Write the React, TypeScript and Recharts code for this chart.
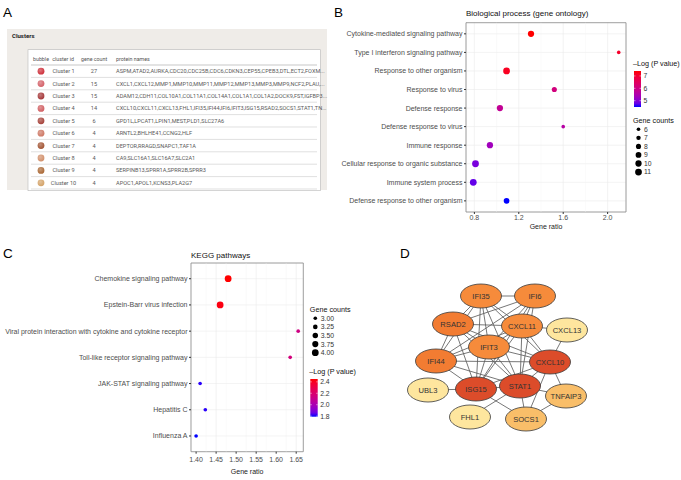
import React from "react";
import { ScatterChart, Scatter, XAxis, YAxis, CartesianGrid, ReferenceLine, ReferenceArea } from "recharts";

const FONT = "'Liberation Sans', Arial, Helvetica, sans-serif";

// ── Panel A: cluster table ───────────────────────────────────────────────────

const clusterIds = ["Cluster 1", "Cluster 2", "Cluster 3", "Cluster 4", "Cluster 5", "Cluster 6", "Cluster 7", "Cluster 8", "Cluster 9", "Cluster 10"];
const clusterCounts = [27, 15, 15, 14, 6, 4, 4, 4, 4, 4];
const clusterProteins = [
  "ASPM,ATAD2,AURKA,CDC20,CDC25B,CDC6,CDKN3,CEP55,CPEB3,DTL,ECT2,FOXM...",
  "CXCL1,CXCL12,MMP1,MMP10,MMP11,MMP12,MMP13,MMP3,MMP9,NCF2,PLAU,...",
  "ADAM12,CDH11,COL10A1,COL11A1,COL14A1,COL1A1,COL1A2,DOCK9,FST,IGFBP3...",
  "CXCL10,CXCL11,CXCL13,FHL1,IFI35,IFI44,IFI6,IFIT3,ISG15,RSAD2,SOCS1,STAT1,TN...",
  "GPD1L,LPCAT1,LPIN1,MEST,PLD1,SLC27A6",
  "ARNTL2,BHLHE41,CCNG2,HLF",
  "DEPTOR,RRAGD,SNAPC1,TAF1A",
  "CA9,SLC16A1,SLC16A7,SLC2A1",
  "SERPINB13,SPRR1A,SPRR2B,SPRR3",
  "APOC1,APOL1,KCNS3,PLA2G7",
];
const clusterColors = ["#CC2A35", "#D25C63", "#A23234", "#CF5A5E", "#A23C33", "#CC7460", "#A0502E", "#D08C66", "#A8642F", "#D2A064"];

// ── Panel B: GO biological process ───────────────────────────────────────────

const bpTerms = [
  "Cytokine-mediated signaling pathway",
  "Type I interferon signaling pathway",
  "Response to other organism",
  "Response to virus",
  "Defense response",
  "Defense response to virus",
  "Immune response",
  "Cellular response to organic substance",
  "Immune system process",
  "Defense response to other organism",
];
const bpRatio = [1.31, 2.10, 1.09, 1.52, 1.03, 1.60, 0.94, 0.81, 0.79, 1.09];
const bpCount = [10, 6, 11, 8, 10, 6, 10, 11, 11, 9];
const bpLogP = [7.4, 7.1, 7.2, 6.1, 5.8, 5.6, 5.3, 4.9, 4.75, 4.49];
const bpRatioTicks = [0.8, 1.2, 1.6, 2.0];
const bpMinorTicks = [1.0, 1.4, 1.8];
const bpCountTicks = [6, 7, 8, 9, 10, 11];
const bpLogPTicks = [5, 6, 7];

// ── Panel C: KEGG ────────────────────────────────────────────────────────────

const keggTerms = [
  "Chemokine signaling pathway",
  "Epstein-Barr virus infection",
  "Viral protein interaction with cytokine and cytokine receptor",
  "Toll-like receptor signaling pathway",
  "JAK-STAT signaling pathway",
  "Hepatitis C",
  "Influenza A",
];
const keggRatio = [1.48, 1.46, 1.655, 1.635, 1.41, 1.423, 1.40];
const keggCount = [4, 4, 3, 3, 3, 3, 3];
const keggLogP = [2.45, 2.43, 2.14, 2.16, 1.80, 1.80, 1.79];
const keggRatioTicks = [1.40, 1.45, 1.50, 1.55, 1.60, 1.65];
const keggMinorTicks = [1.425, 1.475, 1.525, 1.575, 1.625];
const keggCountTicks = [3, 3.25, 3.5, 3.75, 4];
const keggLogPTicks = [1.8, 2.0, 2.2, 2.4];

// ── Panel D: PPI network ─────────────────────────────────────────────────────

const nodeNames = ["IFI35", "IFI6", "RSAD2", "CXCL11", "CXCL13", "IFIT3", "IFI44", "CXCL10", "STAT1", "ISG15", "UBL3", "TNFAIP3", "FHL1", "SOCS1"];
const nodeX = [61, 115, 33, 102, 147, 69, 16, 130, 100, 56, 8, 146, 50, 106];
const nodeY = [16, 16, 44, 46, 50, 67, 81, 82, 106, 109, 110, 116, 137, 139];
const nodeDegree = [10, 10, 11, 10, 2, 10, 11, 13, 13, 13, 1, 4, 1, 4];
const edges = [
  ["IFI35", "IFI6"], ["IFI35", "RSAD2"], ["IFI35", "IFIT3"], ["IFI35", "IFI44"], ["IFI35", "ISG15"], ["IFI35", "STAT1"], ["IFI35", "CXCL10"], ["IFI35", "CXCL11"],
  ["IFI6", "RSAD2"], ["IFI6", "IFIT3"], ["IFI6", "IFI44"], ["IFI6", "ISG15"], ["IFI6", "STAT1"], ["IFI6", "CXCL11"],
  ["RSAD2", "CXCL11"], ["RSAD2", "IFIT3"], ["RSAD2", "IFI44"], ["RSAD2", "ISG15"], ["RSAD2", "STAT1"], ["RSAD2", "CXCL10"],
  ["CXCL11", "CXCL13"], ["CXCL11", "CXCL10"], ["CXCL11", "STAT1"], ["CXCL11", "IFIT3"], ["CXCL11", "IFI44"], ["CXCL11", "ISG15"],
  ["CXCL13", "CXCL10"],
  ["IFIT3", "IFI44"], ["IFIT3", "CXCL10"], ["IFIT3", "ISG15"], ["IFIT3", "STAT1"],
  ["IFI44", "CXCL10"], ["IFI44", "ISG15"], ["IFI44", "STAT1"],
  ["CXCL10", "STAT1"], ["CXCL10", "ISG15"], ["CXCL10", "TNFAIP3"], ["CXCL10", "SOCS1"],
  ["STAT1", "ISG15"], ["STAT1", "SOCS1"], ["STAT1", "TNFAIP3"], ["STAT1", "FHL1"],
  ["ISG15", "UBL3"], ["ISG15", "SOCS1"],
  ["TNFAIP3", "SOCS1"],
];

// ── colour helpers (blue → red through Lab, like ggplot) ─────────────────────

const toLin = (c: number) => { c /= 255; return c <= 0.04045 ? c / 12.92 : Math.pow((c + 0.055) / 1.055, 2.4); };
const fLab = (t: number) => (t > 0.008856 ? Math.cbrt(t) : 7.787 * t + 16 / 116);
function hexToLab(hex: string) {
  const r = toLin(parseInt(hex.slice(1, 3), 16)), g = toLin(parseInt(hex.slice(3, 5), 16)), b = toLin(parseInt(hex.slice(5, 7), 16));
  const X = (0.4124 * r + 0.3576 * g + 0.1805 * b) / 0.95047;
  const Y = 0.2126 * r + 0.7152 * g + 0.0722 * b;
  const Z = (0.0193 * r + 0.1192 * g + 0.9505 * b) / 1.08883;
  return [116 * fLab(Y) - 16, 500 * (fLab(X) - fLab(Y)), 200 * (fLab(Y) - fLab(Z))];
}
function labToHex([L, a, bb]: number[]) {
  const fy = (L + 16) / 116, fx = fy + a / 500, fz = fy - bb / 200;
  const inv = (f: number) => { const f3 = f * f * f; return f3 > 0.008856 ? f3 : (f - 16 / 116) / 7.787; };
  const X = inv(fx) * 0.95047, Y = inv(fy), Z = inv(fz) * 1.08883;
  const lin = [3.2406 * X - 1.5372 * Y - 0.4986 * Z, -0.9689 * X + 1.8758 * Y + 0.0415 * Z, 0.0557 * X - 0.204 * Y + 1.057 * Z];
  return "#" + lin.map((c) => {
    c = Math.min(1, Math.max(0, c));
    const s = c <= 0.0031308 ? 12.92 * c : 1.055 * Math.pow(c, 1 / 2.4) - 0.055;
    return Math.round(s * 255).toString(16).padStart(2, "0");
  }).join("");
}
const LAB_LO = hexToLab("#0000FF");
const LAB_HI = hexToLab("#FF0000");
const gradColor = (t: number) => labToHex(LAB_LO.map((v, i) => v + (LAB_HI[i] - v) * Math.max(0, Math.min(1, t))));

function lighten(hex: string, k: number) {
  const c = [1, 3, 5].map((i) => parseInt(hex.slice(i, i + 2), 16));
  return "#" + c.map((v) => Math.round(v + (255 - v) * k).toString(16).padStart(2, "0")).join("");
}

const R_MIN2 = 3.3, R_MAX2 = 11.5;
const radiusOf = (v: number, lo: number, hi: number) => Math.sqrt(R_MIN2 + (R_MAX2 - R_MIN2) * (v - lo) / (hi - lo));
const expand = (arr: number[]) => {
  const lo = Math.min(...arr), hi = Math.max(...arr), pad = (hi - lo) * 0.05;
  return [lo - pad, hi + pad];
};

function nodeFill(deg: number) {
  if (deg >= 13) return "#DC4C2A";
  if (deg >= 11) return "#F27C32";
  if (deg >= 8) return "#F68B3B";
  if (deg >= 3) return "#F9BE69";
  return "#FEE69E";
}

// ── Dot plot (panels B and C) ────────────────────────────────────────────────

type DotProps = {
  terms: string[]; ratio: number[]; count: number[]; logp: number[];
  ticks: number[]; minor: number[]; digits: number;
  width: number; height: number; margin: { top: number; right: number; bottom: number; left: number };
  yWidth: number; fontSize: number; tickMargin: number; labelOffset: number;
};

function DotPlot(p: DotProps) {
  const rows = p.terms.map((t, i) => ({ term: t, row: i + 1, ratio: p.ratio[i], count: p.count[i], logp: p.logp[i] }));
  const xDom = expand(p.ratio);
  const yDom = [0.4, p.terms.length + 0.6];
  const cLo = Math.min(...p.count), cHi = Math.max(...p.count);
  const pLo = Math.min(...p.logp), pHi = Math.max(...p.logp);
  const tickStyle = { fontSize: p.fontSize, fill: "#4D4D4D", fontFamily: FONT };
  const Dot = (s: any) => (
    <circle cx={s.cx} cy={s.cy} r={radiusOf(s.payload.count, cLo, cHi)} fill={gradColor((s.payload.logp - pLo) / (pHi - pLo))} />
  );
  // one-line category labels (no wrapping)
  const TermTick = (t: any) => (
    <text x={t.x} y={t.y} dy="0.35em" textAnchor="end" fontSize={p.fontSize} fill="#4D4D4D" fontFamily={FONT}>
      {p.terms[t.payload.value - 1]}
    </text>
  );
  return (
    <ScatterChart width={p.width} height={p.height} margin={p.margin}>
      <CartesianGrid stroke="#EBEBEB" strokeWidth={0.6} />
      {p.minor.map((m) => (
        <ReferenceLine key={m} x={m} stroke="#F2F2F2" strokeWidth={0.4} />
      ))}
      <XAxis
        type="number" dataKey="ratio" domain={xDom} allowDataOverflow ticks={p.ticks}
        tickFormatter={(v: number) => v.toFixed(p.digits)} axisLine={false}
        tickLine={{ stroke: "#333" }} tickSize={2} tickMargin={p.tickMargin} tick={tickStyle} height={20}
        label={{ value: "Gene ratio", position: "insideBottom", offset: p.labelOffset, style: { fontSize: p.fontSize, fill: "#222", fontFamily: FONT } }}
      />
      <YAxis
        type="number" dataKey="row" domain={yDom} reversed allowDataOverflow ticks={rows.map((r) => r.row)} interval={0}
        axisLine={false} tickLine={{ stroke: "#333" }} tickSize={2} tickMargin={1.5} tick={TermTick} width={p.yWidth}
      />
      <ReferenceArea x1={xDom[0]} x2={xDom[1]} y1={yDom[0]} y2={yDom[1]} fill="none" stroke="#8C8C8C" strokeWidth={0.8} ifOverflow="visible" />
      <Scatter data={rows} shape={Dot} isAnimationActive={false} />
    </ScatterChart>
  );
}

// ── Legends ──────────────────────────────────────────────────────────────────

function ColorBar({ id, x, y, w, h, values, ticks, title, fontSize }: { id: string; x: number; y: number; w: number; h: number; values: number[]; ticks: number[]; title: string; fontSize: number }) {
  const lo = Math.min(...values), hi = Math.max(...values);
  const stops = Array.from({ length: 11 }, (_, i) => i / 10);
  return (
    <g fontFamily={FONT}>
      <defs>
        <linearGradient id={id} x1="0" y1="1" x2="0" y2="0">
          {stops.map((s) => <stop key={s} offset={s} stopColor={gradColor(s)} />)}
        </linearGradient>
      </defs>
      <text x={x - 1} y={y - 5} fontSize={fontSize + 0.4} fill="#111">{title}</text>
      <rect x={x} y={y} width={w} height={h} fill={`url(#${id})`} />
      {ticks.map((t) => {
        const ty = y + h - ((t - lo) / (hi - lo)) * h;
        return (
          <g key={t}>
            <line x1={x} x2={x + 1.5} y1={ty} y2={ty} stroke="#fff" strokeWidth={0.5} />
            <line x1={x + w - 1.5} x2={x + w} y1={ty} y2={ty} stroke="#fff" strokeWidth={0.5} />
            <text x={x + w + 2.5} y={ty + fontSize * 0.35} fontSize={fontSize} fill="#333">{t.toFixed(ticks.some((v) => v % 1 !== 0) ? 1 : 0)}</text>
          </g>
        );
      })}
    </g>
  );
}

function SizeLegend({ x, y, step, values, ticks, title, fontSize, digits }: { x: number; y: number; step: number; values: number[]; ticks: number[]; title: string; fontSize: number; digits: number }) {
  const lo = Math.min(...values), hi = Math.max(...values);
  return (
    <g fontFamily={FONT}>
      <text x={x - 1} y={y - 6} fontSize={fontSize + 0.4} fill="#111">{title}</text>
      {ticks.map((t, i) => (
        <g key={t}>
          <circle cx={x + 4.5} cy={y + i * step} r={radiusOf(t, lo, hi)} fill="#000" />
          <text x={x + 10} y={y + i * step + fontSize * 0.36} fontSize={fontSize} fill="#333">{t.toFixed(digits)}</text>
        </g>
      ))}
    </g>
  );
}

// ── Panel A ──────────────────────────────────────────────────────────────────

function ClusterTable() {
  const rowY = (i: number) => 71.2 + i * 12.4;
  return (
    <g fontFamily="Roboto, 'Liberation Sans', sans-serif">
      <defs>
        {clusterColors.map((c, i) => (
          <radialGradient key={i} id={`bub${i}`} cx="40%" cy="35%" r="70%">
            <stop offset="0" stopColor={lighten(c, 0.35)} />
            <stop offset="1" stopColor={c} />
          </radialGradient>
        ))}
      </defs>
      <rect x={7} y={29} width={320} height={161} fill="#EFECE8" />
      <text x={12} y={38} fontSize={6} fontWeight="bold" fill="#222">Clusters</text>
      <rect x={28} y={49.7} width={292.3} height={141} fill="#fff" stroke="#B8B8B8" strokeWidth={0.6} />
      <g fontSize={5.3} fill="#555">
        <text x={33} y={61}>bubble</text>
        <text x={52.3} y={61}>cluster id</text>
        <text x={81} y={61}>gene count</text>
        <text x={116} y={61}>protein names</text>
      </g>
      <line x1={31} x2={317} y1={65} y2={65} stroke="#C8C8C8" strokeWidth={1.2} />
      {clusterIds.map((id, i) => (
        <g key={id} fontSize={5.6} fill="#5A5A5A">
          <circle cx={41} cy={rowY(i)} r={3.4} fill={`url(#bub${i})`} />
          <text x={63.5} y={rowY(i) + 2} textAnchor="middle">{id}</text>
          <text x={94} y={rowY(i) + 2} textAnchor="middle">{clusterCounts[i]}</text>
          <text x={116} y={rowY(i) + 2}>{clusterProteins[i]}</text>
          <line x1={31} x2={317} y1={rowY(i) + 6.2} y2={rowY(i) + 6.2} stroke="#D2D2D2" strokeWidth={0.7} />
        </g>
      ))}
    </g>
  );
}

// ── Panel D ──────────────────────────────────────────────────────────────────

function Network() {
  const nodes = nodeNames.map((n, i) => ({ name: n, x: nodeX[i], y: nodeY[i], deg: nodeDegree[i] }));
  const byName: Record<string, any> = Object.fromEntries(nodes.map((n) => [n.name, n]));
  const Node = (s: any) => (
    <g>
      <ellipse cx={s.cx} cy={s.cy} rx={20.5} ry={12} fill={nodeFill(s.payload.deg)} stroke="#3A3A3A" strokeWidth={0.8} />
      <text x={s.cx} y={s.cy + 2.7} textAnchor="middle" fontSize={7.6} fill="#333" fontFamily={FONT}>{s.payload.name}</text>
    </g>
  );
  return (
    <ScatterChart width={200} height={190} margin={{ top: 0, right: 0, bottom: 0, left: 0 }}>
      <XAxis type="number" dataKey="x" domain={[-20, 180]} hide allowDataOverflow />
      <YAxis type="number" dataKey="y" domain={[-20, 170]} reversed hide allowDataOverflow />
      {edges.map(([a, b], i) => (
        <Scatter key={`e${i}`} data={[byName[a], byName[b]]} line={{ stroke: "#5E5E5E", strokeWidth: 0.85 }} shape={() => <g />} isAnimationActive={false} />
      ))}
      <Scatter data={nodes} shape={Node} isAnimationActive={false} />
    </ScatterChart>
  );
}

// ── Page ─────────────────────────────────────────────────────────────────────

export default function App() {
  return (
    <div style={{ position: "fixed", left: 0, top: 0, width: 681, height: 480, background: "#fff", overflow: "hidden", fontFamily: FONT }}>
      <div style={{ position: "absolute", left: 340, top: 0 }}>
        <DotPlot
          terms={bpTerms} ratio={bpRatio} count={bpCount} logp={bpLogP} ticks={bpRatioTicks} minor={bpMinorTicks} digits={1}
          width={341} height={240} margin={{ top: 22.7, right: 55, bottom: 8, left: 0 }}
          yWidth={126} fontSize={7} tickMargin={1} labelOffset={3.5}
        />
      </div>
      <div style={{ position: "absolute", left: 0, top: 240 }}>
        <DotPlot
          terms={keggTerms} ratio={keggRatio} count={keggCount} logp={keggLogP} ticks={keggRatioTicks} minor={keggMinorTicks} digits={2}
          width={360} height={240} margin={{ top: 23, right: 56.7, bottom: 8.3, left: 0 }}
          yWidth={191} fontSize={7} tickMargin={3} labelOffset={-2.3}
        />
      </div>
      <div style={{ position: "absolute", left: 400, top: 260 }}>
        <Network />
      </div>
      <svg width={681} height={480} style={{ position: "absolute", left: 0, top: 0, pointerEvents: "none" }}>
        <ClusterTable />
        <g fontFamily={FONT} fontSize={13.5} fill="#000">
          <text x={3} y={16.5}>A</text>
          <text x={334} y={16.5}>B</text>
          <text x={3} y={258}>C</text>
          <text x={400} y={258}>D</text>
        </g>
        <g fontFamily={FONT} fontSize={8} fill="#111">
          <text x={466} y={16.2}>Biological process (gene ontology)</text>
          <text x={191} y={258}>KEGG pathways</text>
        </g>
        <ColorBar id="cbB" x={634} y={71} w={7} h={36} values={bpLogP} ticks={bpLogPTicks} title="–Log (P value)" fontSize={6.8} />
        <SizeLegend x={634} y={129.3} step={8.55} values={bpCount} ticks={bpCountTicks} title="Gene counts" fontSize={6.8} digits={0} />
        <SizeLegend x={310.8} y={318.3} step={8.6} values={keggCount} ticks={keggCountTicks} title="Gene counts" fontSize={6.8} digits={2} />
        <ColorBar id="cbC" x={310.3} y={379} w={7.4} h={37.7} values={keggLogP} ticks={keggLogPTicks} title="–Log (P value)" fontSize={6.8} />
      </svg>
    </div>
  );
}
